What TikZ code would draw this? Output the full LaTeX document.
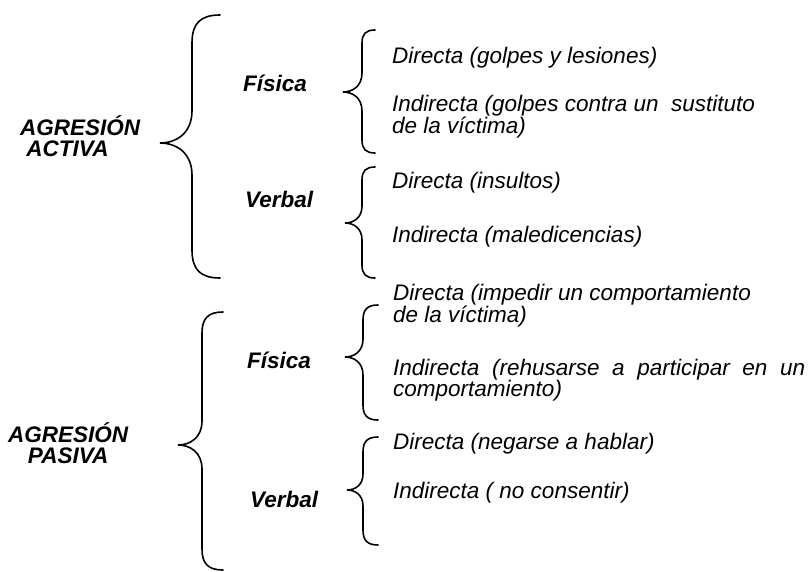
\documentclass[tikz,border=0pt]{standalone}
\usepackage{fontspec}
\setmainfont{Liberation Sans}
\usetikzlibrary{calc}

% left curly brace: end x, spine x, tip x, top y, tip y, bottom y
\newcommand{\llave}[6]{%
  \draw[llavestyle] (#1,#4) .. controls ({#2+0.3*(#1-#2)},#4) and (#2,{#4+0.3*(#1-#2)}) .. (#2,{#4+(#1-#2)})
    -- (#2,{#5-(#2-#3)}) .. controls (#2,{#5-0.3*(#2-#3)}) and ({#3+0.5*(#2-#3)},#5) .. (#3,#5)
    .. controls ({#3+0.5*(#2-#3)},#5) and (#2,{#5+0.3*(#2-#3)}) .. (#2,{#5+(#2-#3)})
    -- (#2,{#6-(#1-#2)}) .. controls (#2,{#6-0.3*(#1-#2)}) and ({#2+0.3*(#1-#2)},#6) .. (#1,#6);}

\begin{document}
\begin{tikzpicture}[x=1pt,y=-1pt,line cap=round]
  % Styles
  \tikzset{
    llavestyle/.style={line width=1.6pt},
    grupo/.style={font=\fontsize{22.5}{21}\selectfont\bfseries\itshape, inner sep=0pt, anchor=base west},
    tipo/.style={font=\fontsize{22.5}{21}\selectfont\bfseries\itshape, inner sep=0pt, anchor=base west},
    item/.style={font=\fontsize{22.5}{21}\selectfont\itshape, inner sep=0pt, anchor=base west, align=left}
  }
  \useasboundingbox (0,0) rectangle (809,572);

  % Agresion activa (multi-line nodes sit on their last baseline)
  \node[grupo, align=left] (activa) at (20,157) {AGRESIÓN\\\ ACTIVA};
  \llave{220}{192}{160}{15}{143}{278}

  \node[tipo] (fisA) at (243,92) {Física};
  \llave{375}{362}{343}{30}{92}{153}
  \node[item] (fisAd) at (392,64) {Directa (golpes y lesiones)};
  \node[item] (fisAi) at (392,134) {Indirecta (golpes contra un\ \ sustituto\\de la víctima)};

  \node[tipo] (verA) at (245,208) {Verbal};
  \llave{375}{362}{345}{167}{223}{278}
  \node[item] (verAd) at (392,189) {Directa (insultos)};
  \node[item] (verAi) at (392,243) {Indirecta (maledicencias)};

  % Agresion pasiva
  \node[grupo, align=center] (pasiva) at (8,463) {AGRESIÓN\\PASIVA};
  \llave{223}{202}{178}{312}{445}{570}

  \node[tipo] (fisP) at (247,368) {Física};
  \llave{378}{363}{345}{305}{357}{420}
  \node[item] (fisPd) at (393,323) {Directa (impedir un comportamiento\\de la víctima)};
  % justified block: sits on its first baseline
  \node[item, text width=412pt, align=justify] (fisPi) at (393,375) {Indirecta (rehusarse a participar en un comportamiento)};

  \node[tipo] (verP) at (250,507) {Verbal};
  \llave{378}{363}{347}{437}{490}{545}
  \node[item] (verPd) at (393,449) {Directa (negarse a hablar)};
  \node[item] (verPi) at (393,498) {Indirecta ( no consentir)};
\end{tikzpicture}
\end{document}
